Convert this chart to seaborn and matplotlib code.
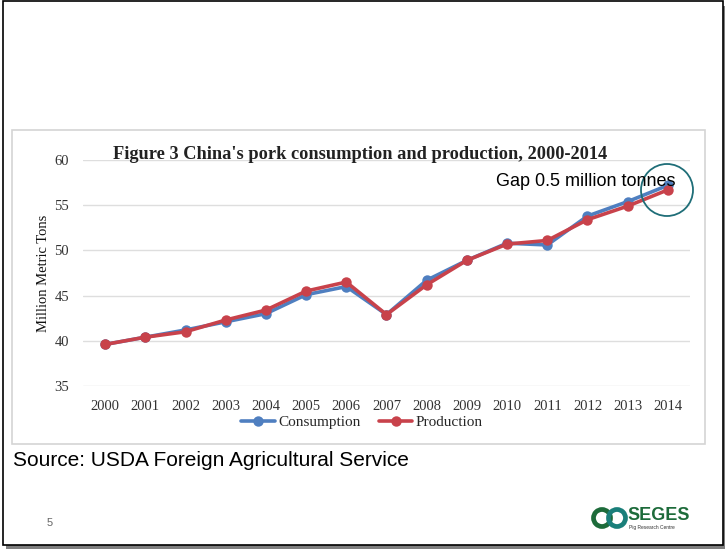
import numpy as np
import pandas as pd
import matplotlib
matplotlib.use("Agg")
import matplotlib.pyplot as plt
import seaborn as sns
from matplotlib.patches import Rectangle, Ellipse

# Data (million metric tons)
years = list(range(2000, 2015))
consumption = [39.6, 40.4, 41.2, 42.1, 43.0, 45.1, 46.0, 42.9, 46.7, 48.9,
               50.8, 50.6, 53.8, 55.4, 57.2]
production = [39.6, 40.4, 41.0, 42.3, 43.4, 45.5, 46.5, 42.9, 46.2, 48.9,
              50.7, 51.1, 53.4, 54.9, 56.7]
series_names = ["Consumption", "Production"]
y_ticks = [35, 40, 45, 50, 55, 60]

df = pd.DataFrame({
    "Year": years * 2,
    "Value": consumption + production,
    "Series": [series_names[0]] * len(years) + [series_names[1]] * len(years),
})

sns.set_theme(style="white")
plt.rcParams["font.family"] = ["Liberation Serif", "DejaVu Serif"]
SANS = ["Liberation Sans", "DejaVu Sans"]

W, H = 725, 549
fig = plt.figure(figsize=(W / 100, H / 100), dpi=100)
fig.patch.set_facecolor("white")


def fx(px):
    return px / W


def fy(py):
    return 1 - py / H


# slide frame with shadow
fig.patches.append(Rectangle((fx(6), fy(549)), fx(719), fy(6) - fy(549),
                             transform=fig.transFigure, facecolor="#7f7f7f",
                             edgecolor="none", zorder=0))
fig.patches.append(Rectangle((fx(2.5), fy(544.5)), fx(720), fy(1) - fy(544.5),
                             transform=fig.transFigure, facecolor="white",
                             edgecolor="black", linewidth=1.2, zorder=0.5))
# chart image border
fig.patches.append(Rectangle((fx(12), fy(444)), fx(705 - 12), fy(130) - fy(444),
                             transform=fig.transFigure, facecolor="white",
                             edgecolor="#d4d4d4", linewidth=1.2, zorder=0.8))

ax = fig.add_axes([fx(83), fy(386), fx(690 - 83), fy(160) - fy(386)])
ax.set_zorder(2)
ax.set_facecolor("none")

palette = {"Consumption": "#4f7fc0", "Production": "#c8424b"}
sns.lineplot(data=df, x="Year", y="Value", hue="Series", palette=palette,
             marker="o", markersize=7.5, markeredgewidth=0, linewidth=2.6,
             ax=ax, legend=True)

ax.set_xlim(1999.45, 2014.55)
ax.set_ylim(35, 60)
ax.set_xticks(years)
ax.set_xticklabels([str(y) for y in years])
ax.set_yticks(y_ticks)
ax.yaxis.grid(True, color="#dedede", linewidth=1)
ax.xaxis.grid(False)
for s in ax.spines.values():
    s.set_visible(False)
ax.tick_params(axis="both", length=0, labelsize=10.5, colors="#333333")
ax.tick_params(axis="x", pad=10)
ax.tick_params(axis="y", pad=10)
ax.set_xlabel("")
ax.set_ylabel("Million Metric Tons", fontsize=10.5, color="#111111", labelpad=3)

handles, labels = ax.get_legend_handles_labels()
ax.legend(handles, labels, loc="center", bbox_to_anchor=(fx(362), fy(422)),
          bbox_transform=fig.transFigure, ncol=2, frameon=False,
          fontsize=11, handlelength=2.2, handletextpad=0.2, columnspacing=1.2)

fig.text(fx(360), fy(155), "Figure 3 China's pork consumption and production, 2000-2014",
         ha="center", va="center", fontsize=13.2, fontweight="bold", color="#222222",
         zorder=6)

# annotation
fig.text(fx(496), fy(181), "Gap 0.5 million tonnes", ha="left", va="center",
         fontsize=13, family=SANS, color="black", zorder=6)
fig.patches.append(Ellipse((fx(667), fy(190)), fx(52), fy(0) - fy(52),
                           transform=fig.transFigure, facecolor="none",
                           edgecolor="#1f6e78", linewidth=1.3, zorder=5))

fig.text(fx(13), fy(461), "Source: USDA Foreign Agricultural Service", ha="left",
         va="center", fontsize=15, family=SANS, color="black")
fig.text(fx(50), fy(523), "5", ha="center", va="center", fontsize=8,
         family=SANS, color="#666666")

# SEGES logo
for cx, col in [(602, "#1d6b3a"), (617, "#1a7f7a")]:
    fig.patches.append(Ellipse(
        (fx(cx), fy(518)), fx(17), fy(0) - fy(17), transform=fig.transFigure,
        facecolor="none", edgecolor=col, linewidth=3.4, zorder=5))
fig.text(fx(627), fy(516), "SEGES", ha="left", va="center", fontsize=13,
         fontweight="bold", family=SANS, color="#1d6b3a")
fig.text(fx(629), fy(528), "Pig Research Centre", ha="left", va="center",
         fontsize=3.5, family=SANS, color="#333333")

fig.savefig("out.png", dpi=100)
